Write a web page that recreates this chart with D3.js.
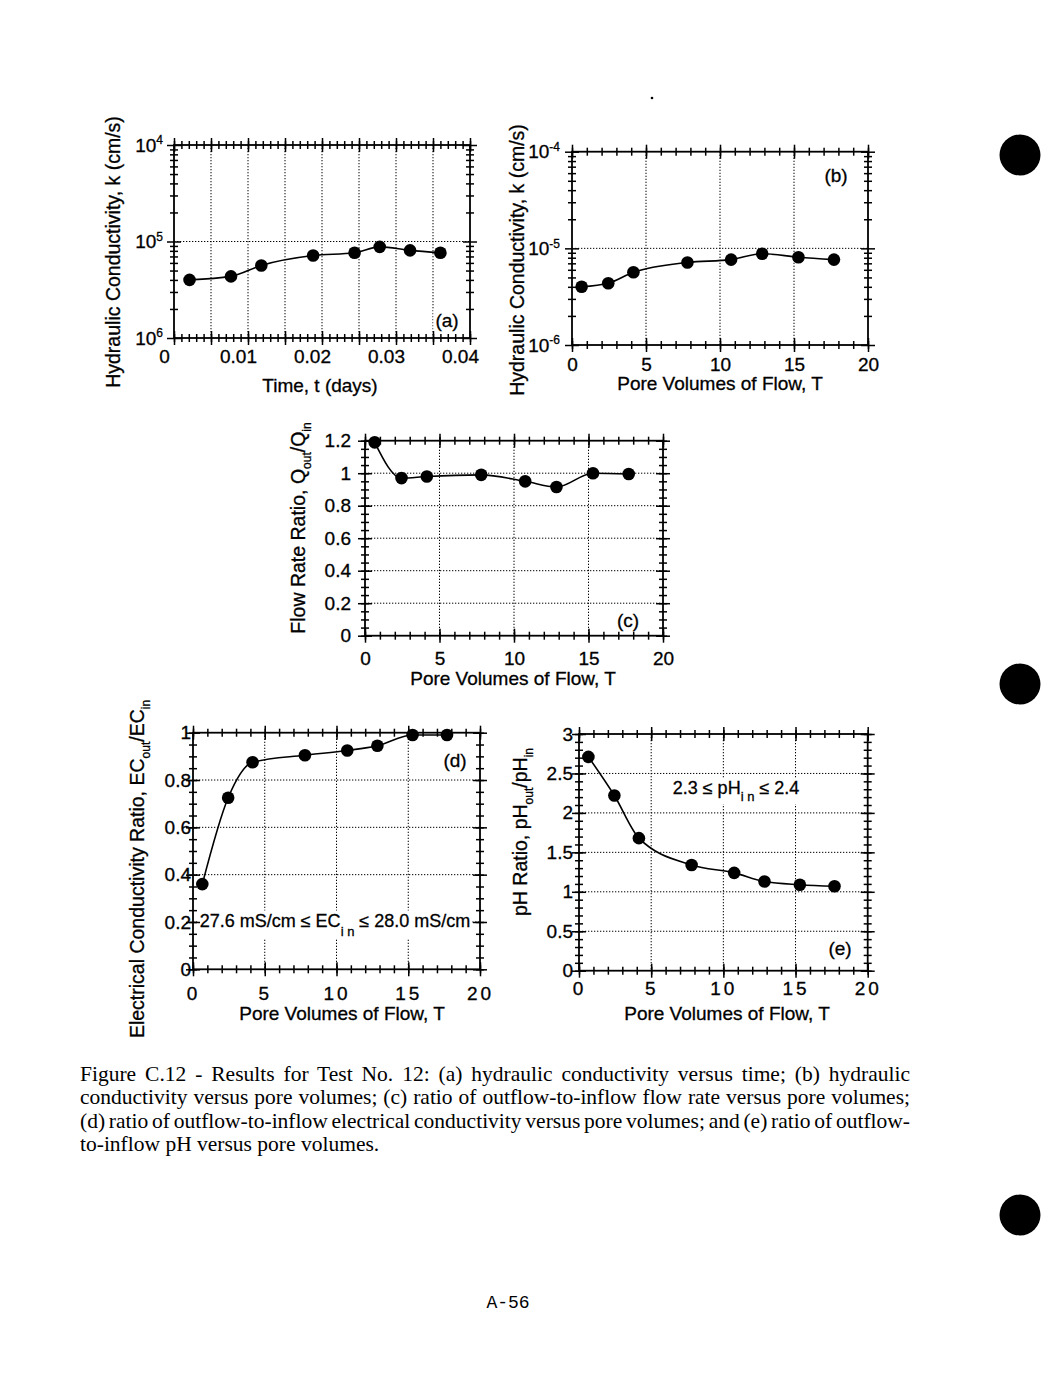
<!DOCTYPE html>
<html>
<head>
<meta charset="utf-8">
<script src="https://cdn.jsdelivr.net/npm/d3@7"></script>
<style>
  body { margin: 0; background: #fff; }
  svg { display: block; }
  text { fill: #000; }
  .ink text { stroke: #000; stroke-width: 0.3px; }
</style>
</head>
<body>
<div id="page"></div>
<script>
// ---- data ----
const poreVolumes = [0.65, 2.45, 4.15, 7.8, 10.75, 12.85, 15.3, 17.7];
const timeDays    = [0.0021, 0.0077, 0.0118, 0.0188, 0.0244, 0.0278, 0.0319, 0.036];
const hydCond     = [4.0e-6, 4.35e-6, 5.65e-6, 7.15e-6, 7.65e-6, 8.8e-6, 8.1e-6, 7.65e-6];
const flowRatio   = [1.19, 0.97, 0.98, 0.99, 0.95, 0.915, 1.0, 0.995];
const ecRatio     = [0.36, 0.725, 0.875, 0.905, 0.925, 0.945, 0.99, 0.99];
const phRatio     = [2.71, 2.22, 1.68, 1.34, 1.24, 1.13, 1.09, 1.07];

// ---- tick labels ----
const timeTicks = [0, 0.01, 0.02, 0.03, 0.04];
const poreTicks = [0, 5, 10, 15, 20];
const decadeTicks = [1e-6, 1e-5, 1e-4];
const flowTicks = [0, 0.2, 0.4, 0.6, 0.8, 1, 1.2];
const ecTicks = [0, 0.2, 0.4, 0.6, 0.8, 1];
const phTicks = [0, 0.5, 1, 1.5, 2, 2.5, 3];

const captionLines = [
  "Figure C.12 - Results for Test No. 12: (a) hydraulic conductivity versus time; (b) hydraulic",
  "conductivity versus pore volumes; (c) ratio of outflow-to-inflow flow rate versus pore volumes;",
  "(d) ratio of outflow-to-inflow  electrical conductivity versus pore volumes; and (e) ratio of outflow-",
  "to-inflow pH versus pore volumes."
];

const FONT = '"Liberation Sans", Arial, Helvetica, sans-serif';

const svg = d3.select("#page").append("svg")
  .attr("width", 1063)
  .attr("height", 1379);

const logMinor = [1e-6, 1e-5].flatMap(b => d3.range(2, 10).map(k => k * b));
const steps = (n, s) => d3.range(n + 1).map(i => +(i * s).toFixed(4));

// writes [text, isSub] pieces into a text element, dropping subscripts
function writeParts(t, parts, subSize, subShift) {
  let back = 0;
  parts.forEach(([s, sub]) => {
    const ts = t.append("tspan").text(s);
    if (sub) {
      ts.attr("font-size", subSize).attr("dy", subShift);
      back = -subShift;
    } else if (back) {
      ts.attr("dy", back);
      back = 0;
    }
  });
}

function drawPanel(p) {
  const g = svg.append("g").attr("class", "ink").attr("font-family", FONT);
  const [xl, xr] = p.x.range();
  const [yb, yt] = p.y.range();

  const dotted = s => s.attr("stroke", "#000").attr("stroke-width", 1).attr("stroke-dasharray", "1.3,1.7");

  // grid
  g.append("g").selectAll("line").data(p.vgrid).join("line")
    .attr("x1", d => p.x(d)).attr("x2", d => p.x(d))
    .attr("y1", yt).attr("y2", yb)
    .call(dotted);
  g.append("g").selectAll("line").data(p.hgrid).join("line")
    .attr("x1", xl).attr("x2", xr)
    .attr("y1", d => p.y(d)).attr("y2", d => p.y(d))
    .call(dotted);

  // notes and panel tag, on white so the grid stops behind them
  p.notes.forEach(n => {
    const t = g.append("text")
      .attr("x", n.x).attr("y", n.y)
      .attr("text-anchor", "middle")
      .attr("font-size", n.size || 19);
    writeParts(t, n.parts, 13, n.subShift || 8);
    const bb = t.node().getBBox();
    g.insert("rect", () => t.node())
      .attr("x", bb.x - 2).attr("y", bb.y)
      .attr("width", bb.width + 4).attr("height", bb.height)
      .attr("fill", "#fff");
  });

  // frame
  g.append("rect")
    .attr("x", xl).attr("y", yt)
    .attr("width", xr - xl).attr("height", yb - yt)
    .attr("fill", "none").attr("stroke", "#000").attr("stroke-width", 1.8);

  // crossing ticks on all four sides
  function tk(gen, scale, vals, len, tr) {
    const a = g.append("g").attr("transform", tr)
      .call(gen(scale).tickValues(vals).tickSize(len).tickFormat(""));
    a.select(".domain").remove();
    a.selectAll("line").attr("stroke-width", 1.5).each(function() {
      const l = d3.select(this);
      if (l.attr("y2") !== null) l.attr("y1", -l.attr("y2"));
      else l.attr("x1", -l.attr("x2"));
    });
  }
  [[d3.axisBottom, yb], [d3.axisTop, yt]].forEach(([gen, yy]) => {
    tk(gen, p.x, p.xMinor, 4, `translate(0,${yy})`);
    tk(gen, p.x, p.xMajor, 7, `translate(0,${yy})`);
  });
  [[d3.axisLeft, xl], [d3.axisRight, xr]].forEach(([gen, xx]) => {
    tk(gen, p.y, p.yMinor, 4, `translate(${xx},0)`);
    tk(gen, p.y, p.yMajor, 7, `translate(${xx},0)`);
  });

  // tick labels
  const xa = g.append("g").attr("transform", `translate(0,${yb})`)
    .call(d3.axisBottom(p.x).tickValues(p.xLabels).tickSize(0).tickPadding(p.xPad).tickFormat(p.xFmt));
  xa.select(".domain").remove();
  xa.attr("font-size", 19).attr("font-family", FONT);
  xa.selectAll("text").attr("dx", p.xDx || 0).style("letter-spacing", p.xLs || null);

  const ya = g.append("g").attr("transform", `translate(${xl},0)`)
    .call(d3.axisLeft(p.y).tickValues(p.yLabels).tickSize(0).tickPadding(p.yPad).tickFormat(p.yFmt || d3.format("~g")));
  ya.select(".domain").remove();
  ya.attr("font-size", 19).attr("font-family", FONT);
  if (p.supFmt) {
    ya.selectAll("text").each(function(d) {
      const t = d3.select(this).text("");
      t.append("tspan").text("10");
      t.append("tspan").attr("font-size", 12).attr("dy", "-0.6em").text(p.supFmt(d));
    });
  }

  // axis titles
  g.append("text")
    .attr("x", p.xTitle[0]).attr("y", p.xTitle[1])
    .attr("text-anchor", "middle").attr("font-size", 19)
    .text(p.xTitleText);
  const yTitle = g.append("text")
    .attr("transform", `translate(${p.yTitle[0]},${p.yTitle[1]}) rotate(-90)`)
    .attr("text-anchor", "middle").attr("font-size", 19.5);
  writeParts(yTitle, p.yTitleParts, 12, 6);

  // curve and points
  const rows = p.xv.map((v, i) => ({ x: v, y: p.yv[i] }));
  g.append("path")
    .datum(rows)
    .attr("d", d3.line().x(d => p.x(d.x)).y(d => p.y(d.y)).curve(d3.curveMonotoneX))
    .attr("fill", "none").attr("stroke", "#000").attr("stroke-width", 1.6);
  g.append("g").selectAll("circle").data(rows).join("circle")
    .attr("cx", d => p.x(d.x)).attr("cy", d => p.y(d.y))
    .attr("r", 6.3).attr("fill", "#000");
}

const kTitle = [["Hydraulic Conductivity, k (cm/s)"]];
const poreTitle = "Pore Volumes of Flow, T";

// (a)
drawPanel({
  x: d3.scaleLinear().domain([0, 0.04]).range([174, 470]),
  y: d3.scaleLog().domain([1e-6, 1e-4]).range([338, 145]),
  xv: timeDays, yv: hydCond,
  vgrid: steps(7, 0.005).slice(1), hgrid: [1e-5],
  xMinor: steps(40, 0.001), xMajor: steps(8, 0.005),
  yMinor: logMinor, yMajor: decadeTicks,
  xLabels: timeTicks, xFmt: d => d === 0 ? "0" : d3.format(".2f")(d), xPad: 12, xDx: -10,
  yLabels: decadeTicks, yPad: 11, supFmt: d => String(-Math.round(Math.log10(d))),
  xTitleText: "Time, t (days)", xTitle: [320, 392],
  yTitleParts: kTitle, yTitle: [120, 252],
  notes: [{ x: 447, y: 327, parts: [["(a)"]] }]
});

// (b)
drawPanel({
  x: d3.scaleLinear().domain([0, 20]).range([572, 868]),
  y: d3.scaleLog().domain([1e-6, 1e-4]).range([345, 151.7]),
  xv: poreVolumes, yv: hydCond,
  vgrid: [5, 10, 15], hgrid: [1e-5],
  xMinor: d3.range(21), xMajor: poreTicks,
  yMinor: logMinor, yMajor: decadeTicks,
  xLabels: poreTicks, xFmt: d3.format("d"), xPad: 13,
  yLabels: decadeTicks, yPad: 12, supFmt: d => String(Math.round(Math.log10(d))),
  xTitleText: poreTitle, xTitle: [720, 390],
  yTitleParts: kTitle, yTitle: [524, 260],
  notes: [{ x: 836, y: 182, parts: [["(b)"]] }]
});

// (c)
drawPanel({
  x: d3.scaleLinear().domain([0, 20]).range([365, 663]),
  y: d3.scaleLinear().domain([0, 1.2]).range([635.7, 440.7]),
  xv: poreVolumes, yv: flowRatio,
  vgrid: [5, 10, 15], hgrid: [0.2, 0.4, 0.6, 0.8, 1],
  xMinor: d3.range(21), xMajor: poreTicks,
  yMinor: steps(24, 0.05), yMajor: flowTicks,
  xLabels: poreTicks, xFmt: d3.format("d"), xPad: 15.5,
  yLabels: flowTicks, yPad: 14,
  xTitleText: poreTitle, xTitle: [513, 685],
  yTitleParts: [["Flow Rate Ratio, Q"], ["out", true], ["/Q"], ["in", true]], yTitle: [305, 528],
  notes: [{ x: 628, y: 627, parts: [["(c)"]] }]
});

// (d)
drawPanel({
  x: d3.scaleLinear().domain([0, 20]).range([193, 480]),
  y: d3.scaleLinear().domain([0, 1]).range([969.3, 732.7]),
  xv: poreVolumes, yv: ecRatio,
  vgrid: [5, 10, 15], hgrid: [0.2, 0.4, 0.6, 0.8],
  xMinor: d3.range(21), xMajor: poreTicks,
  yMinor: steps(20, 0.05), yMajor: ecTicks,
  xLabels: poreTicks, xFmt: d3.format("d"), xPad: 17, xLs: "3px",
  yLabels: ecTicks, yPad: 2,
  xTitleText: poreTitle, xTitle: [342, 1020],
  yTitleParts: [["Electrical Conductivity Ratio, EC"], ["out", true], ["/EC"], ["in", true]], yTitle: [144, 869],
  notes: [
    { x: 455, y: 767, parts: [["(d)"]] },
    { x: 335, y: 926.5, size: 18, subShift: 9, parts: [["27.6 mS/cm \u2264 EC"], ["i n", true], [" \u2264 28.0 mS/cm"]] }
  ]
});

// (e)
drawPanel({
  x: d3.scaleLinear().domain([0, 20]).range([579, 867.7]),
  y: d3.scaleLinear().domain([0, 3]).range([970.7, 734]),
  xv: poreVolumes, yv: phRatio,
  vgrid: [5, 10, 15], hgrid: [0.5, 1, 1.5, 2, 2.5],
  xMinor: d3.range(21), xMajor: poreTicks,
  yMinor: steps(30, 0.1), yMajor: phTicks,
  xLabels: poreTicks, xFmt: d3.format("d"), xPad: 10.5, xLs: "3px",
  yLabels: phTicks, yPad: 6,
  xTitleText: poreTitle, xTitle: [727, 1020],
  yTitleParts: [["pH Ratio, pH"], ["out", true], ["/pH"], ["in", true]], yTitle: [527, 832],
  notes: [
    { x: 840, y: 955, parts: [["(e)"]] },
    { x: 736, y: 794, size: 18, subShift: 7, parts: [["2.3 \u2264 pH"], ["i n", true], [" \u2264 2.4"]] }
  ]
});

// caption, justified to the block width
captionLines.forEach((s, i) => {
  const t = svg.append("text")
    .attr("x", 80).attr("y", 1081 + i * 23.3)
    .attr("font-family", '"Liberation Serif", "Times New Roman", serif')
    .attr("font-size", 21.5)
    .text(s);
  if (i < captionLines.length - 1) {
    const w = t.node().getComputedTextLength();
    const n = (s.match(/ +/g) || []).length;
    t.style("word-spacing", ((830 - w) / n) + "px");
  }
});

// page furniture
svg.append("text")
  .attr("x", 508).attr("y", 1308)
  .attr("text-anchor", "middle")
  .attr("font-family", '"Liberation Mono", "Courier New", monospace')
  .attr("font-size", 18)
  .text("A-56");
svg.append("circle").attr("cx", 652).attr("cy", 98).attr("r", 1.3).attr("fill", "#000");
[155, 684, 1215].forEach(cy => {
  svg.append("circle").attr("cx", 1020).attr("cy", cy).attr("r", 20.5).attr("fill", "#000");
});
</script>
</body>
</html>
